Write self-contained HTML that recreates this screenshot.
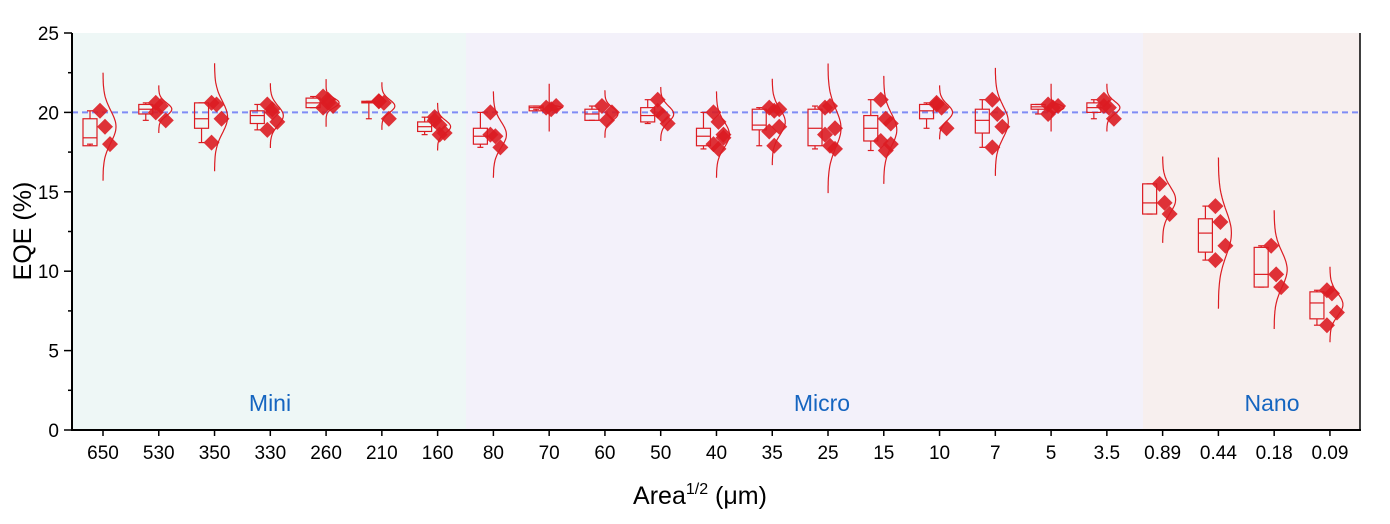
<!DOCTYPE html>
<html><head><meta charset="utf-8"><style>body{margin:0;background:#fff}svg{display:block}text{font-family:"Liberation Sans",Arial,sans-serif}</style></head>
<body><svg id="s" width="1390" height="524" xmlns="http://www.w3.org/2000/svg"></svg>
<script>
const s=document.getElementById('s');let h='';
const Y=v=>430-15.88*v, X0=103, dx=55.77;
h+=`<rect x="72" y="33" width="394" height="397" fill="#eef7f6"/><rect x="466" y="33" width="677" height="397" fill="#f3f1fa"/><rect x="1143" y="33" width="217" height="397" fill="#f7efee"/>`;
h+=`<line x1="72" x2="1360" y1="${Y(20)}" y2="${Y(20)}" stroke="#7f8cf5" stroke-width="2" stroke-dasharray="6,4"/>`;
const labs=['650','530','350','330','260','210','160','80','70','60','50','40','35','25','15','10','7','5','3.5','0.89','0.44','0.18','0.09'];
const D=[[19.1,1.0,17.9,19.6,18.4,[20.1,19.1,18.0]],[20.2,.4,19.9,20.5,20.2,[20.6,20.4,19.5,20.0]],[19.7,1.0,19.0,20.6,19.6,[20.6,20.5,19.6,18.1]],[19.8,.6,19.3,20.1,19.8,[20.5,20.2,19.4,18.9,20.0]],[20.6,.3,20.3,20.9,20.6,[21,20.8,20.4,20.3,20.6]],[20.4,.4,20.6,20.7,20.65,[20.7,20.6,19.6,20.7]],[19.1,.4,18.8,19.4,19.1,[19.7,19.2,18.7,19.5,18.6]],[18.6,.8,18.0,19.0,18.5,[20.0,18.5,17.8,18.6]],[20.3,.1,20.1,20.4,20.3,[20.3,20.2,20.4]],[19.9,.4,19.5,20.2,19.9,[20.4,19.5,20.0]],[19.9,.5,19.4,20.3,19.8,[20.8,19.8,19.3,20.1]],[18.6,.8,17.9,19.0,18.5,[20.0,19.4,18.6,18.0,17.7,18.4]],[19.4,.8,18.9,20.2,19.2,[20.3,20.1,19.1,18.8,17.9,20.2]],[19.0,1.2,17.9,20.2,19.0,[20.3,20.4,19.0,18.6,17.9,17.7]],[18.9,1.0,18.2,19.8,19.0,[20.8,19.6,19.3,18.2,17.6,18.0]],[20.0,.5,19.6,20.5,20.1,[20.6,20.3,19.0,20.5]],[19.4,1.0,18.7,20.2,19.5,[20.8,19.9,19.1,17.8]],[20.3,.2,20.2,20.5,20.35,[20.5,20.3,20.4,19.9]],[20.3,.4,20.0,20.6,20.3,[20.8,20.3,19.6,20.4]],[14.5,.8,13.6,15.5,14.3,[15.5,14.3,13.6]],[12.4,1.4,11.2,13.3,12.4,[14.1,13.1,11.6,10.7]],[10.1,1.1,9.0,11.5,9.8,[11.6,9.8,9.0]],[7.9,.7,7.0,8.7,8.0,[8.8,8.6,7.4,6.6]]];
const R='#dc1c22';
D.forEach((d,i)=>{const c=X0+i*dx;const[m,sd,q1,q3,md,pts]=d;
 const lo=Math.min(...pts),hi=Math.max(...pts);
 h+=`<g stroke="${R}" stroke-width="1.2" fill="none"><rect x="${c-20}" y="${Y(q3)}" width="14" height="${Math.max(1,Y(q1)-Y(q3))}"/><line x1="${c-20}" x2="${c-6}" y1="${Y(md)}" y2="${Y(md)}"/><line x1="${c-13}" x2="${c-13}" y1="${Y(hi)}" y2="${Y(q3)}"/><line x1="${c-13}" x2="${c-13}" y1="${Y(q1)}" y2="${Y(lo)}"/><line x1="${c-16}" x2="${c-10}" y1="${Y(hi)}" y2="${Y(hi)}"/><line x1="${c-16}" x2="${c-10}" y1="${Y(lo)}" y2="${Y(lo)}"/>`;
 let p='';const r=Math.max(3.4*sd,1.5);for(let k=0;k<=60;k++){const v=m+r-2*r*k/60;const x=c+13*Math.exp(-((v-m)**2)/(2*sd*sd));p+=(k?'L':'M')+x.toFixed(1)+','+Math.max(33,Y(v)).toFixed(1);}
 h+=`<path d="${p}"/></g>`;
 pts.forEach((v,j)=>{const x=c+((j%3)-1)*5+2,y=Y(v);h+=`<path d="M${x},${y-8}L${x+8},${y}L${x},${y+8}L${x-8},${y}Z" fill="${R}" opacity=".9"/>`;});
 h+=`<line x1="${c}" x2="${c}" y1="430" y2="436" stroke="#000" stroke-width="1.5"/><text x="${c}" y="459" font-size="19" text-anchor="middle">${labs[i]}</text>`;
});
h+=`<line x1="72" x2="72" y1="33" y2="431" stroke="#000" stroke-width="2"/><line x1="1360" x2="1360" y1="33" y2="431" stroke="#000" stroke-width="1.5"/><line x1="71" x2="1361" y1="430" y2="430" stroke="#000" stroke-width="2"/>`;
for(let v=0;v<=25;v+=2.5){const y=Y(v);const maj=v%5==0;h+=`<line x1="${maj?64:68}" x2="72" y1="${y}" y2="${y}" stroke="#000" stroke-width="1.5"/>`;if(maj)h+=`<text x="59" y="${y+7}" font-size="19" text-anchor="end">${v}</text>`;}
h+=`<text x="270" y="411" font-size="23" fill="#1565c0" text-anchor="middle">Mini</text><text x="822" y="411" font-size="23" fill="#1565c0" text-anchor="middle">Micro</text><text x="1272" y="411" font-size="23" fill="#1565c0" text-anchor="middle">Nano</text>`;
h+=`<text x="700" y="504" font-size="25" text-anchor="middle">Area<tspan font-size="16" dy="-10">1/2</tspan><tspan dy="10"> (μm)</tspan></text>`;
h+=`<text transform="translate(31,231) rotate(-90)" font-size="25" text-anchor="middle">EQE (%)</text>`;
s.innerHTML=h;
</script></body></html>
